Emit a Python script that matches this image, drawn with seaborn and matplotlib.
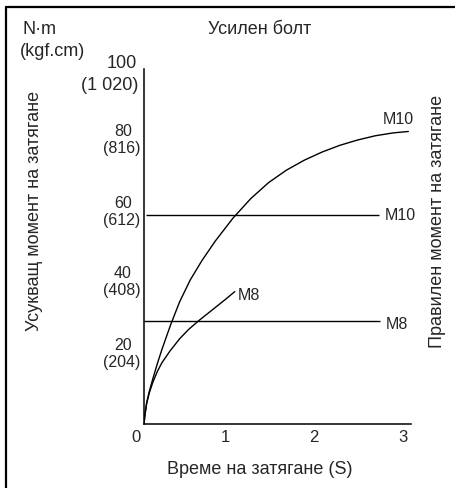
import matplotlib
matplotlib.use("Agg")
import matplotlib.pyplot as plt
import matplotlib.transforms as mtransforms
from matplotlib import font_manager
from matplotlib.lines import Line2D
import seaborn as sns
import pandas as pd

# Tightening torque curves (time in s, torque in N·m)
m10_time = [0.0, 0.01, 0.03, 0.06, 0.10, 0.15, 0.20, 0.30, 0.40, 0.52, 0.65, 0.80,
            1.0, 1.2, 1.4, 1.6, 1.8, 2.0, 2.2, 2.4, 2.6, 2.8, 2.97]
m10_torque = [0.0, 2.5, 6.0, 9.2, 12.8, 17.0, 20.9, 28.0, 34.4, 40.6, 46.0, 51.5,
              58.0, 63.5, 68.0, 71.5, 74.3, 76.6, 78.5, 80.0, 81.2, 82.0, 82.4]
m8_time = [0.0, 0.01, 0.03, 0.06, 0.10, 0.15, 0.20, 0.29, 0.40, 0.50, 0.61, 0.72,
           0.82, 0.92, 1.02]
m8_torque = [0.0, 2.5, 5.8, 8.8, 11.8, 14.8, 17.2, 20.5, 24.0, 26.6, 29.0, 31.2,
             33.2, 35.2, 37.3]

# Specified (correct) tightening torque levels
spec_names = ["M10", "M8"]
spec_torque = [59.0, 29.0]
spec_start = [0.02, 0.0]
spec_end = [2.64, 2.65]

# Axis ticks
x_ticks = [0, 1, 2, 3]
x_labels = ["0", "1", "2", "3"]
y_ticks = [20, 40, 60, 80, 100]
y_labels_nm = ["20", "40", "60", "80", "100"]
y_labels_kgf = ["(204)", "(408)", "(612)", "(816)", "(1 020)"]

sns.set_theme(style="white")
plt.rcParams["font.family"] = ["Liberation Sans", "DejaVu Sans"]
FS = 13
FS_SMALL = 11.5

# Narrow face for the stacked torque values, if available
try:
    font_manager.findfont("Liberation Sans Narrow", fallback_to_default=False)
    narrow_family = ["Liberation Sans Narrow"]
    narrow_size = 13
except Exception:
    narrow_family = ["Liberation Sans"]
    narrow_size = 11.5

W, H = 455, 488
fig = plt.figure(figsize=(W / 100, H / 100), dpi=100)
fig.patch.set_facecolor("white")
ax = fig.add_axes([144 / W, 64 / H, 267 / W, 355 / H])
ax.set_facecolor("white")

curves = pd.concat([
    pd.DataFrame({"t": m10_time, "torque": m10_torque, "bolt": "M10"}),
    pd.DataFrame({"t": m8_time, "torque": m8_torque, "bolt": "M8"}),
])
sns.lineplot(data=curves, x="t", y="torque", units="bolt", estimator=None,
             sort=False, color="black", lw=1.0, ax=ax, legend=False)
ax.hlines(spec_torque, spec_start, spec_end, color="black", lw=1.0)

ax.set_xlim(0, 3)
ax.set_ylim(0, 100)
for side in ("top", "right"):
    ax.spines[side].set_visible(False)
for side in ("left", "bottom"):
    ax.spines[side].set_color("black")
    ax.spines[side].set_linewidth(1.1)

ax.set_xticks(x_ticks)
ax.set_xticklabels(x_labels, fontsize=12)
ax.tick_params(axis="x", direction="in", length=8.5, width=1.0, color="black", pad=4)
shift = mtransforms.ScaledTranslation(-8 / 100, 0, fig.dpi_scale_trans)
for lab in ax.get_xticklabels():
    lab.set_transform(lab.get_transform() + shift)

ax.set_yticks(y_ticks)
ax.set_yticklabels([])
ax.tick_params(axis="y", direction="in", length=7, width=1.0, color="black")
ax.set_xlabel("")
ax.set_ylabel("")

# Two-line torque labels on the y axis
for val, nm, kgf in zip(y_ticks, y_labels_nm, y_labels_kgf):
    if val == 100:
        ax.annotate(nm, xy=(0, val), xycoords=("axes fraction", "data"), xytext=(-22, 6),
                    textcoords="offset pixels", ha="center", va="center", fontsize=FS)
        ax.annotate(kgf, xy=(0, val), xycoords=("axes fraction", "data"), xytext=(-34, -17),
                    textcoords="offset pixels", ha="center", va="center", fontsize=FS)
    else:
        ax.annotate(nm, xy=(0, val), xycoords=("axes fraction", "data"), xytext=(-21, 8),
                    textcoords="offset pixels", ha="center", va="center",
                    fontsize=narrow_size, family=narrow_family)
        ax.annotate(kgf, xy=(0, val), xycoords=("axes fraction", "data"), xytext=(-22, -9),
                    textcoords="offset pixels", ha="center", va="center",
                    fontsize=narrow_size, family=narrow_family)

# Curve and level labels
ax.annotate("M10", xy=(m10_time[-1], m10_torque[-1]), xytext=(6, 4),
            textcoords="offset pixels", ha="right", va="bottom", fontsize=FS_SMALL)
ax.annotate("M8", xy=(m8_time[-1], m8_torque[-1]), xytext=(3, -4),
            textcoords="offset pixels", ha="left", va="center", fontsize=FS_SMALL)
for name, val, end in zip(spec_names, spec_torque, spec_end):
    dy = -1 if name == "M10" else -3
    ax.annotate(name, xy=(end, val), xytext=(6, dy), textcoords="offset pixels",
                ha="left", va="center", fontsize=FS_SMALL)


def px(x, y):
    return x / W, 1 - y / H


fig.text(*px(22, 30), "N·m", ha="left", va="center", fontsize=FS)
fig.text(*px(20, 52), "(kgf.cm)", ha="left", va="center", fontsize=FS)
fig.text(*px(260, 29), "Усилен болт", ha="center", va="center", fontsize=FS)
fig.text(*px(260, 469), "Време на затягане (S)", ha="center", va="center", fontsize=FS)
fig.text(*px(35, 211), "Усукващ момент на затягане", ha="center", va="center",
         rotation=90, fontsize=FS)
fig.text(*px(437, 221), "Правилен момент на затягане", ha="center", va="center",
         rotation=90, fontsize=FS)

# Outer frame (top and left edges)
fig.add_artist(Line2D([5.5 / W, 1.0], [1 - 7 / H, 1 - 7 / H], transform=fig.transFigure,
                      color="black", lw=1.6))
fig.add_artist(Line2D([5.5 / W, 5.5 / W], [0.0, 1 - 7 / H], transform=fig.transFigure,
                      color="black", lw=1.6))

fig.savefig("out.png", dpi=100, facecolor="white")
